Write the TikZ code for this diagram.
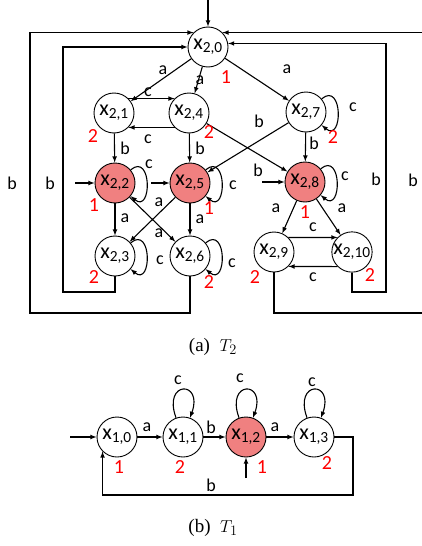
\documentclass[tikz,border=0pt]{standalone}
\usepackage{fontspec}
\setmainfont{Carlito}
\newfontfamily\capfont{Liberation Serif}
\definecolor{accred}{RGB}{240,128,128}
\tikzset{
  st/.style={circle, draw, line width=0.9pt, minimum size=40pt, inner sep=0pt,
    font=\fontsize{22}{24}\selectfont},
  acc/.style={st, fill=accred},
  lbl/.style={inner sep=0pt, font=\fontsize{18}{20}\selectfont},
  num/.style={inner sep=0pt, text=red, font=\fontsize{20}{22}\selectfont},
  captxt/.style={inner sep=0pt, font=\capfont\fontsize{19}{21}\selectfont},
  rloop/.style={out=40, in=-40, distance=28pt},
  uloop/.style={out=110, in=70, distance=40pt},
}
\begin{document}
\begin{tikzpicture}[>=latex, x=1pt, y=1pt, line width=1.1pt]
\useasboundingbox (0,0) rectangle (421,-546);
% T2 states
\node[st] (x20) at (208,-47) {x\textsubscript{2,0}};
\node[st] (x21) at (114,-113) {x\textsubscript{2,1}};
\node[st] (x24) at (189,-113) {x\textsubscript{2,4}};
\node[st] (x27) at (306,-112) {x\textsubscript{2,7}};
\node[acc] (x22) at (115,-183) {x\textsubscript{2,2}};
\node[acc] (x25) at (190,-183) {x\textsubscript{2,5}};
\node[acc] (x28) at (305,-182) {x\textsubscript{2,8}};
\node[st] (x23) at (115,-256) {x\textsubscript{2,3}};
\node[st] (x26) at (190,-256) {x\textsubscript{2,6}};
\node[st] (x29) at (274,-252) {x\textsubscript{2,9}};
\node[st] (x210) at (352,-252) {x\textsubscript{2,10}};
% T2 initial arrows
\coordinate (i20) at (208,0);
\coordinate (i22) at (75,-183);
\coordinate (i25) at (151,-183);
\coordinate (i28) at (262,-182);
\draw[->] (i20) -- (x20);
\draw[->] (i22) -- (x22);
\draw[->] (i25) -- (x25);
\draw[->] (i28) -- (x28);
% T2 transitions
\draw[->] (x20) -- (x21);
\draw[->] (x20) -- (x24);
\draw[->] (x20) -- (x27);
\draw[->] (x21.45) -- (x24.135);
\draw[->] (x24.-135) -- (x21.-45);
\draw[->] (x21) -- (x22);
\draw[->] (x24) -- (x25);
\draw[->] (x24) -- (x28);
\draw[->] (x27) -- (x25);
\draw[->] (x27) -- (x28);
\draw[->] (x27) to[rloop] (x27);
\draw[->] (x22) to[rloop] (x22);
\draw[->] (x25) to[rloop] (x25);
\draw[->] (x28) to[rloop] (x28);
\draw[->] (x22) -- (x23);
\draw[->] (x22) -- (x26);
\draw[->] (x25) -- (x23);
\draw[->] (x25) -- (x26);
\draw[->] (x23) to[rloop] (x23);
\draw[->] (x26) to[rloop] (x26);
\draw[->] (x28) -- (x29);
\draw[->] (x28) -- (x210);
\draw[->] (x29.45) -- (x210.135);
\draw[->] (x210.-135) -- (x29.-45);
% T2 b loops back to x20
\coordinate (lo) at (30,-313);
\coordinate (li) at (63,-292);
\coordinate (ri) at (386,-292);
\coordinate (ro) at (424,-313);
\draw[->] (x26.south) |- (lo) |- (x20.135);
\draw[->] (x23.south) |- (li) |- (x20.west);
\draw[->] (x210.south) |- (ri) |- (x20.10);
\draw[->] (x29.south) |- (ro) |- (x20.45);
% T2 labels
\node[lbl] (l1) at (163,-70) {a};
\node[lbl] (l2) at (200,-80) {a};
\node[lbl] (l3) at (287,-69) {a};
\node[lbl] (l4) at (148,-92) {c};
\node[lbl] (l5) at (148,-139) {c};
\node[lbl] (l6) at (125,-148) {b};
\node[lbl] (l7) at (200,-148) {b};
\node[lbl] (l8) at (259,-121) {b};
\node[lbl] (l9) at (314,-143) {b};
\node[lbl] (l10) at (353,-107) {c};
\node[lbl] (l11) at (258,-170) {b};
\node[lbl] (l12) at (149,-164) {c};
\node[lbl] (l13) at (233,-185) {c};
\node[lbl] (l14) at (345,-176) {c};
\node[lbl] (l15) at (125,-218) {a};
\node[lbl] (l16) at (200,-219) {a};
\node[lbl] (l17) at (159,-202) {a};
\node[lbl] (l18) at (159,-233) {a};
\node[lbl] (l19) at (160,-260) {c};
\node[lbl] (l20) at (232,-263) {c};
\node[lbl] (l21) at (276,-208) {a};
\node[lbl] (l22) at (342,-208) {a};
\node[lbl] (l23) at (313,-227) {c};
\node[lbl] (l24) at (313,-277) {c};
\node[lbl] (l25) at (12,-183) {b};
\node[lbl] (l26) at (50,-183) {b};
\node[lbl] (l27) at (376,-179) {b};
\node[lbl] (l28) at (413,-180) {b};
% T2 numbers
\node[num] (n20) at (226,-77) {1};
\node[num] (n21) at (93,-136) {2};
\node[num] (n24) at (209,-132) {2};
\node[num] (n27) at (333,-137) {2};
\node[num] (n22) at (94,-205) {1};
\node[num] (n25) at (209,-208) {1};
\node[num] (n28) at (305,-212) {1};
\node[num] (n23) at (94,-277) {2};
\node[num] (n26) at (209,-282) {2};
\node[num] (n29) at (255,-277) {2};
\node[num] (n210) at (370,-275) {2};
\node[captxt] (capa) at (213,-347) {(a)\ \ $T_2$};
% T1 states
\node[st] (x10) at (117,-437) {x\textsubscript{1,0}};
\node[st] (x11) at (183,-437) {x\textsubscript{1,1}};
\node[acc] (x12) at (246,-437) {x\textsubscript{1,2}};
\node[st] (x13) at (314,-437) {x\textsubscript{1,3}};
\coordinate (i10) at (70,-437);
\coordinate (i12) at (246,-478);
\coordinate (fb) at (353,-495);
\draw[->] (i10) -- (x10);
\draw[->] (i12) -- (x12);
\draw[->] (x10) -- (x11);
\draw[->] (x11) -- (x12);
\draw[->] (x12) -- (x13);
\draw[->] (x11) to[uloop] (x11);
\draw[->] (x12) to[uloop] (x12);
\draw[->] (x13) to[uloop] (x13);
\draw[->] (x13.east) -| (fb) -| (x10.225);
% T1 labels
\node[lbl] (m1) at (147,-427) {a};
\node[lbl] (m2) at (211,-427) {b};
\node[lbl] (m3) at (275,-427) {a};
\node[lbl] (m4) at (178,-380) {c};
\node[lbl] (m5) at (240,-378) {c};
\node[lbl] (m6) at (312,-382) {c};
\node[lbl] (m7) at (211,-485) {b};
\node[num] (n10) at (119,-467) {1};
\node[num] (n11) at (180,-467) {2};
\node[num] (n12) at (262,-467) {1};
\node[num] (n13) at (327,-463) {2};
\node[captxt] (capb) at (213,-528) {(b)\ \ $T_1$};
\end{tikzpicture}
\end{document}
